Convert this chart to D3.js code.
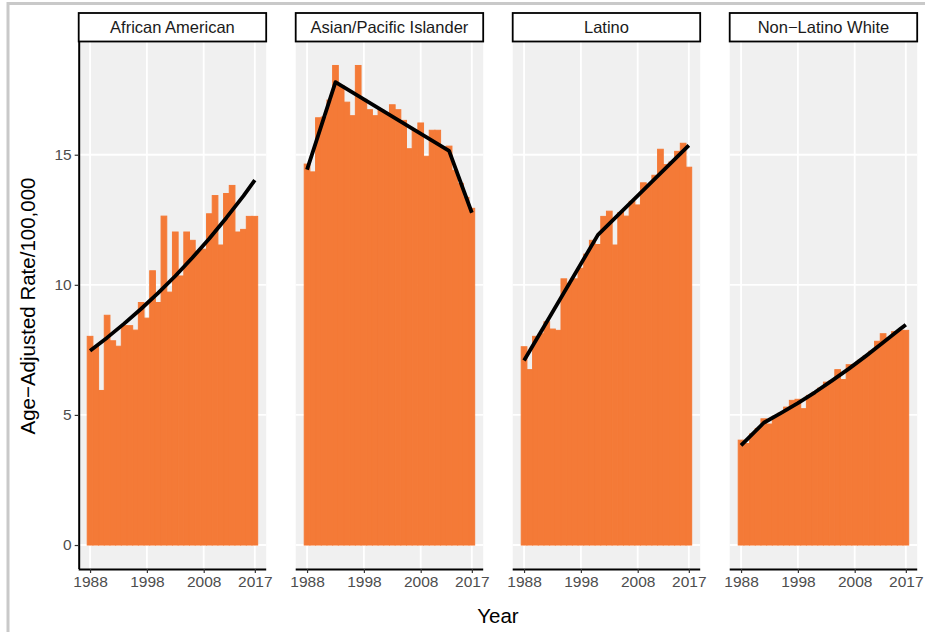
<!DOCTYPE html>
<html>
<head>
<meta charset="utf-8">
<script src="https://cdn.jsdelivr.net/npm/d3@7"></script>
<style>
  html, body { margin: 0; padding: 0; background: #ffffff; }
  svg { display: block; font-family: "Liberation Sans", Arial, sans-serif; }
</style>
</head>
<body>
<svg id="chart" width="925" height="632"></svg>
<script>
// ---- data -------------------------------------------------------------
const groups = ["African American", "Asian/Pacific Islander", "Latino", "Non\u2212Latino White"];

const years = [1988, 1989, 1990, 1991, 1992, 1993, 1994, 1995, 1996, 1997,
               1998, 1999, 2000, 2001, 2002, 2003, 2004, 2005, 2006, 2007,
               2008, 2009, 2010, 2011, 2012, 2013, 2014, 2015, 2016, 2017];

// annual age-adjusted rates per 100,000
const rateAfricanAmerican = [8.02, 7.63, 5.94, 8.83, 7.85, 7.64, 8.43, 8.43, 8.26, 9.32,
                             8.72, 10.54, 9.32, 12.64, 9.72, 12.03, 10.34, 12.03, 11.71, 11.29,
                             11.37, 12.73, 13.43, 11.53, 13.51, 13.82, 12.03, 12.13, 12.63, 12.63];
const rateAsianPI = [14.64, 14.34, 16.42, 16.45, 17.10, 18.43, 17.66, 17.02, 16.50, 18.43,
                     17.13, 16.73, 16.50, 16.73, 16.60, 16.92, 16.73, 16.32, 15.23, 15.94,
                     16.22, 14.94, 15.94, 15.94, 15.30, 15.33, 14.40, 13.90, 13.36, 12.94];
const rateLatino = [7.62, 6.74, 8.02, 8.12, 8.58, 8.30, 8.25, 10.23, 10.06, 10.23,
                    10.64, 11.18, 11.71, 11.55, 12.63, 12.83, 11.53, 12.78, 12.64, 13.21,
                    13.07, 13.92, 13.86, 14.21, 15.21, 14.62, 14.72, 15.13, 15.44, 14.52];
const rateNonLatinoWhite = [4.03, 3.90, 4.27, 4.48, 4.85, 4.65, 4.95, 5.07, 5.30, 5.56,
                            5.60, 5.24, 5.75, 5.87, 6.03, 6.26, 6.32, 6.74, 6.36, 6.93,
                            6.94, 7.10, 7.27, 7.45, 7.83, 8.12, 7.95, 8.20, 8.25, 8.25];

// joinpoint trend lines (year, modelled rate)
const trendAfricanAmericanYears = [1988, 1991, 1994, 1997, 2000, 2003, 2006, 2009, 2012, 2015, 2017];
const trendAfricanAmerican      = [7.47, 7.97, 8.51, 9.08, 9.69, 10.34, 11.04, 11.78, 12.58, 13.42, 14.02];
const trendAsianPIYears = [1988, 1993, 2013, 2017];
const trendAsianPI      = [14.43, 17.79, 15.15, 12.77];
const trendLatinoYears = [1988, 2001, 2017];
const trendLatino      = [7.09, 11.92, 15.36];
const trendNonLatinoWhiteYears = [1988, 1992, 1995, 1998, 2001, 2004, 2007, 2010, 2013, 2016, 2017];
const trendNonLatinoWhite      = [3.83, 4.70, 5.07, 5.45, 5.87, 6.32, 6.78, 7.27, 7.78, 8.30, 8.47];

const rates = [rateAfricanAmerican, rateAsianPI, rateLatino, rateNonLatinoWhite];
const trendYears = [trendAfricanAmericanYears, trendAsianPIYears, trendLatinoYears, trendNonLatinoWhiteYears];
const trends = [trendAfricanAmerican, trendAsianPI, trendLatino, trendNonLatinoWhite];

const yTicks = [0, 5, 10, 15];
const xTicks = [1988, 1998, 2008, 2017];

// ---- layout -----------------------------------------------------------
const svg = d3.select("#chart");
const panelLefts = [78.7, 295.7, 512.7, 729.7];
const panelW = 187.5;
const panelTop = 41.5;
const panelBottom = 569;
const stripTop = 13;
const barColor = "#F47A37";
const bgColor = "#F0F0F0";
const tickColor = "#4D4D4D";

// window frame
svg.append("path")
  .attr("d", "M8,632 V3.5 H925")
  .attr("fill", "none")
  .attr("stroke", "#C9C9C9")
  .attr("stroke-width", 3);

// shared scales
const yMaxData = d3.max(rates.flat());
const yPad = yMaxData * 0.05;
const y = d3.scaleLinear()
  .domain([-yPad, yMaxData + yPad])
  .range([panelBottom, panelTop]);

const xPad = (years[years.length - 1] - years[0] + 1) * 0.05;
const xDomain = [years[0] - 0.5 - xPad, years[years.length - 1] + 0.5 + xPad];

groups.forEach((name, gi) => {
  const left = panelLefts[gi];
  const x = d3.scaleLinear().domain(xDomain).range([left, left + panelW]);
  const g = svg.append("g");

  // panel background
  g.append("rect")
    .attr("x", left).attr("y", panelTop)
    .attr("width", panelW).attr("height", panelBottom - panelTop)
    .attr("fill", bgColor);

  // gridlines
  g.selectAll(".hgrid").data(yTicks).enter().append("line")
    .attr("x1", left).attr("x2", left + panelW)
    .attr("y1", d => y(d)).attr("y2", d => y(d))
    .attr("stroke", "#ffffff").attr("stroke-width", 1.8);
  g.selectAll(".vgrid").data(xTicks).enter().append("line")
    .attr("x1", d => x(d)).attr("x2", d => x(d))
    .attr("y1", panelTop).attr("y2", panelBottom)
    .attr("stroke", "#ffffff").attr("stroke-width", 1.8);

  // bars (one-year bins, drawn edge to edge)
  g.selectAll(".bar").data(years.map((yr, i) => ({ yr, v: rates[gi][i] })))
    .enter().append("rect")
    .attr("x", d => x(d.yr - 0.5))
    .attr("width", d => x(d.yr + 0.5) - x(d.yr - 0.5))
    .attr("y", d => y(d.v))
    .attr("height", d => y(0) - y(d.v))
    .attr("fill", barColor)
    .attr("stroke", barColor).attr("stroke-width", 1);

  // trend line
  const pts = trendYears[gi].map((yr, i) => [yr, trends[gi][i]]);
  g.append("path")
    .datum(pts)
    .attr("d", d3.line().x(d => x(d[0])).y(d => y(d[1])).curve(d3.curveLinear))
    .attr("fill", "none")
    .attr("stroke", "#000000")
    .attr("stroke-width", 3.8)
    .attr("stroke-linejoin", "round");

  // strip
  g.append("rect")
    .attr("x", left).attr("y", stripTop)
    .attr("width", panelW).attr("height", panelTop - stripTop)
    .attr("fill", "#ffffff")
    .attr("stroke", "#000000").attr("stroke-width", 1.8);
  g.append("text")
    .attr("x", left + panelW / 2).attr("y", (stripTop + panelTop) / 2)
    .attr("dy", "0.36em")
    .attr("text-anchor", "middle")
    .attr("font-size", 16.5)
    .attr("fill", "#1A1A1A")
    .text(name);

  // x axis
  const xAxis = d3.axisBottom(x).tickValues(xTicks).tickFormat(d3.format("d")).tickSize(4).tickSizeOuter(0);
  const xa = svg.append("g").attr("transform", `translate(0,${panelBottom})`).call(xAxis);
  xa.select(".domain").attr("stroke", "#000000").attr("stroke-width", 2)
    .attr("d", `M${left},0.5H${left + panelW}`);
  xa.selectAll(".tick line").attr("stroke", "#333333").attr("stroke-width", 1.2);
  xa.selectAll(".tick text").attr("fill", tickColor).attr("font-size", 15.5)
    .attr("font-family", "Liberation Sans, Arial, sans-serif").attr("y", 7);

  // y axis on the first panel only
  if (gi === 0) {
    const yAxis = d3.axisLeft(y).tickValues(yTicks).tickSize(4).tickSizeOuter(0);
    const ya = svg.append("g").attr("transform", `translate(${left},0)`).call(yAxis);
    ya.select(".domain").attr("stroke", "#000000").attr("stroke-width", 2)
      .attr("d", `M0.5,${panelTop}V${panelBottom}`);
    ya.selectAll(".tick line").attr("stroke", "#333333").attr("stroke-width", 1.2);
    ya.selectAll(".tick text").attr("fill", tickColor).attr("font-size", 15.5)
      .attr("font-family", "Liberation Sans, Arial, sans-serif").attr("x", -7);
  }
});

// axis titles
svg.append("text")
  .attr("x", (panelLefts[0] + panelLefts[3] + panelW) / 2)
  .attr("y", 623)
  .attr("text-anchor", "middle")
  .attr("font-size", 20.5)
  .attr("fill", "#000000")
  .text("Year");

svg.append("text")
  .attr("transform", "translate(35,306) rotate(-90)")
  .attr("text-anchor", "middle")
  .attr("font-size", 20.5)
  .attr("fill", "#000000")
  .text("Age\u2212Adjusted Rate/100,000");
</script>
</body>
</html>
